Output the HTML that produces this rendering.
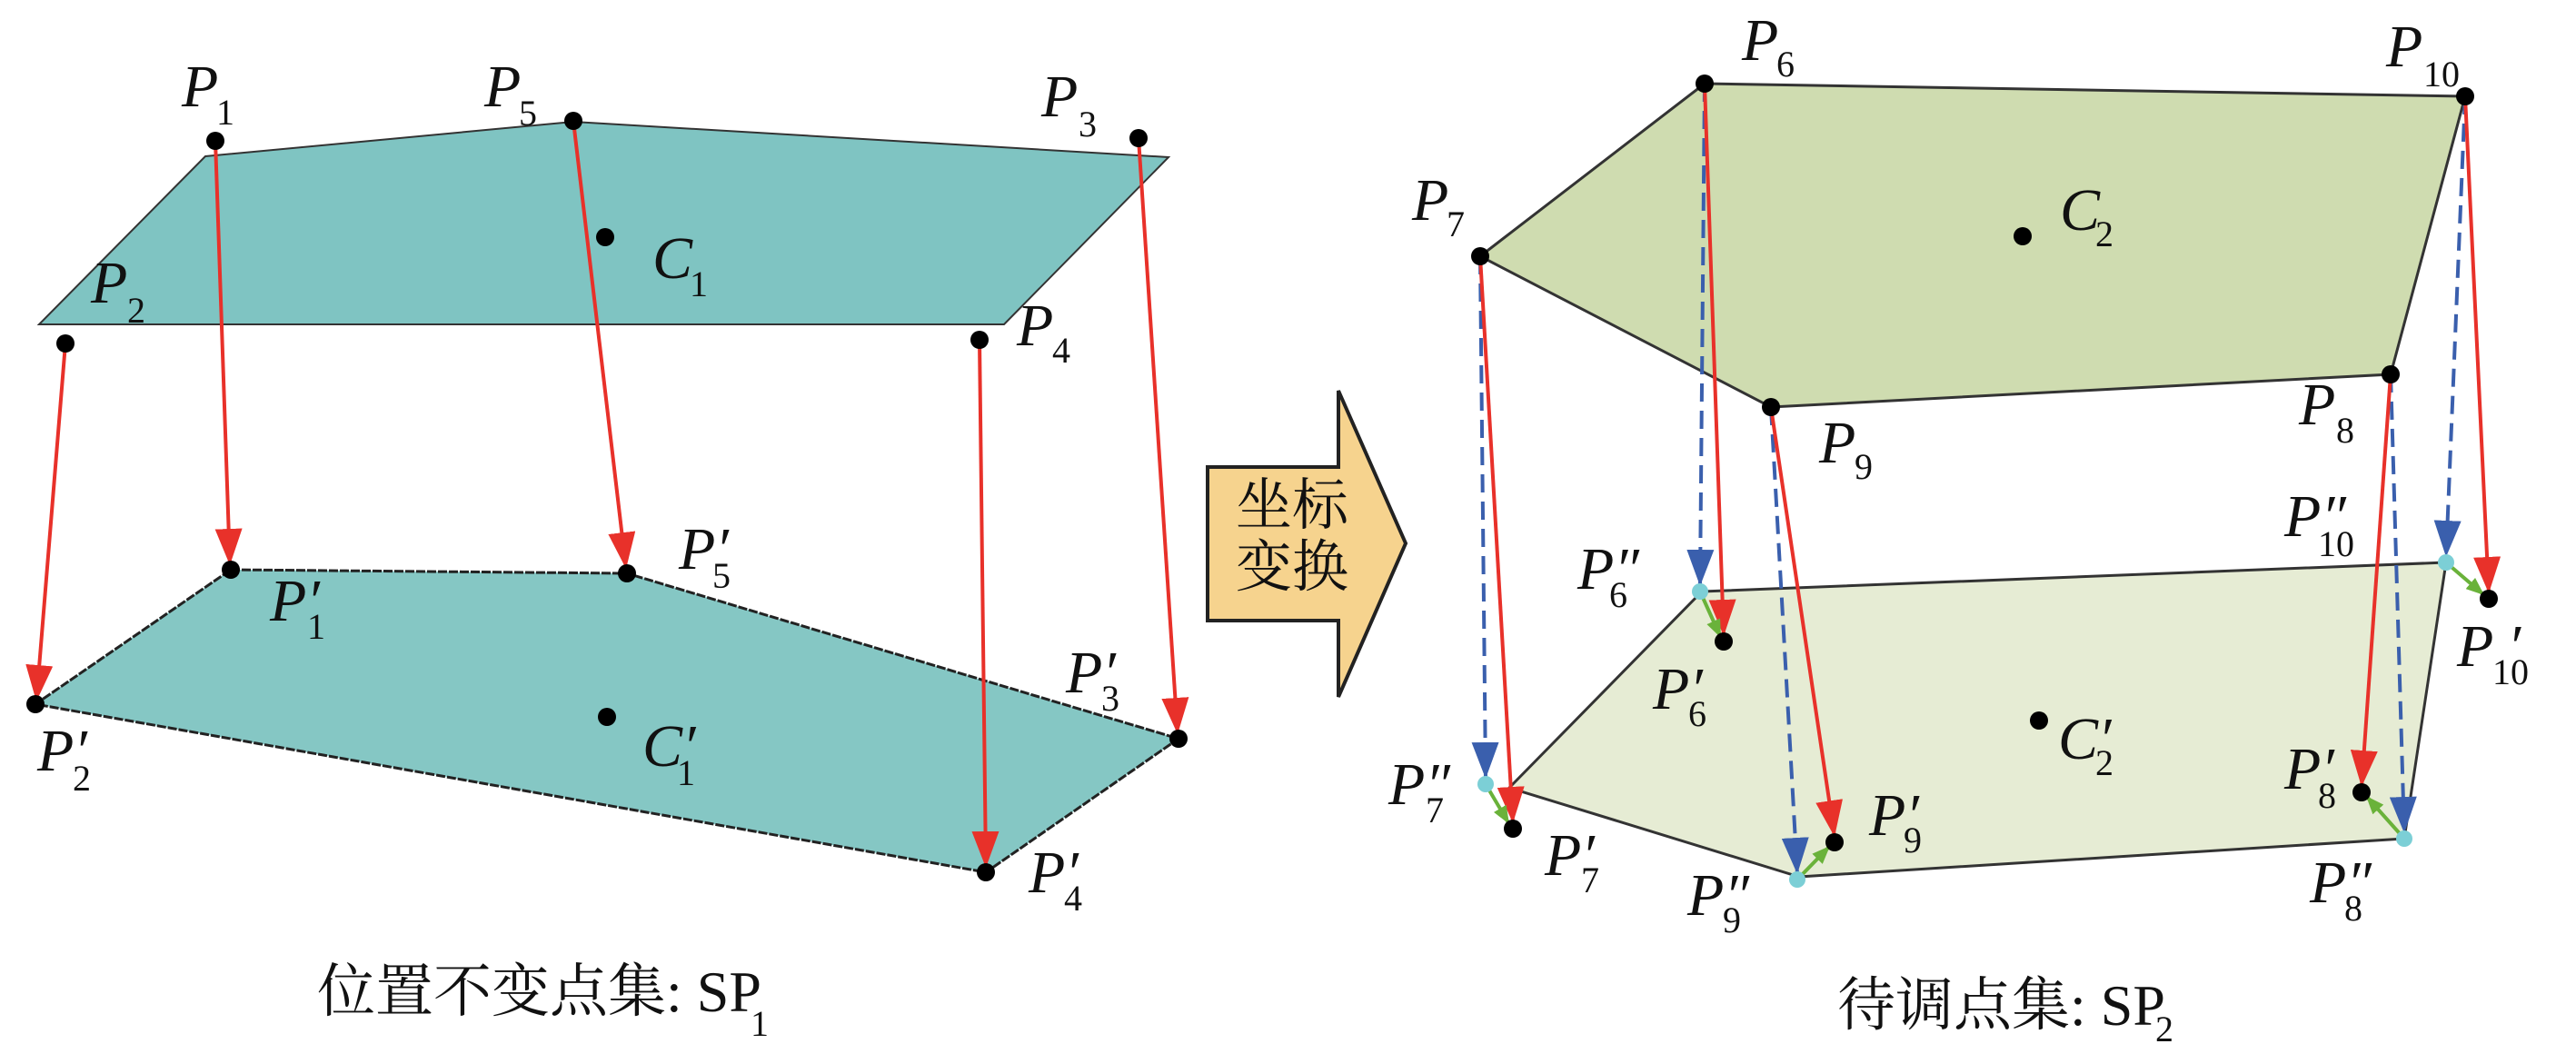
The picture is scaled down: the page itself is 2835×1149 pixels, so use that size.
<!DOCTYPE html>
<html><head><meta charset="utf-8"><style>
html,body{margin:0;padding:0;background:#fff;}
svg{display:block;}
.p{font-family:"Liberation Serif","DejaVu Serif",serif;font-style:italic;font-size:66px;fill:#111;}
.s{font-family:"Liberation Serif","DejaVu Serif",serif;font-size:40px;fill:#111;}
.cj{font-family:"Liberation Serif","Noto Serif CJK SC",serif;font-size:64px;fill:#111;}
</style></head><body>
<svg width="2835" height="1149" viewBox="0 0 2835 1149" xmlns="http://www.w3.org/2000/svg">
<defs>
<marker id="rh" viewBox="0 0 40 30" refX="40" refY="15" markerWidth="40" markerHeight="30" orient="auto" markerUnits="userSpaceOnUse"><path d="M0,0 L40,15 L0,30 z" fill="#e8312a"/></marker>
<marker id="bh" viewBox="0 0 40 30" refX="40" refY="15" markerWidth="40" markerHeight="30" orient="auto" markerUnits="userSpaceOnUse"><path d="M0,0 L40,15 L0,30 z" fill="#3a5fad"/></marker>
<marker id="gh" viewBox="0 0 20 16" refX="20" refY="8" markerWidth="20" markerHeight="16" orient="auto" markerUnits="userSpaceOnUse"><path d="M0,0 L20,8 L0,16 z" fill="#6ab23a"/></marker>
</defs>

<!-- LEFT -->
<polygon points="226,172 631,134 1286,173 1105,357 43,357" fill="#7fc4c2" stroke="#333" stroke-width="2"/>
<polygon points="254,627 690,631 1297,813 1085,960 39,775" fill="#85c7c4" stroke="#222" stroke-width="3" stroke-dasharray="10,2"/>
<g stroke="#e8312a" stroke-width="4" fill="none">
<line x1="72" y1="378" x2="40" y2="772" marker-end="url(#rh)"/>
<line x1="237" y1="155" x2="253" y2="622" marker-end="url(#rh)"/>
<line x1="631" y1="133" x2="689" y2="626" marker-end="url(#rh)"/>
<line x1="1078" y1="374" x2="1085" y2="955" marker-end="url(#rh)"/>
<line x1="1253" y1="152" x2="1296" y2="808" marker-end="url(#rh)"/>
</g>
<g fill="#000">
<circle cx="237" cy="155" r="10"/><circle cx="631" cy="133" r="10"/><circle cx="1253" cy="152" r="10"/>
<circle cx="72" cy="378" r="10"/><circle cx="1078" cy="374" r="10"/><circle cx="666" cy="261" r="10"/>
<circle cx="254" cy="627" r="10"/><circle cx="690" cy="631" r="10"/><circle cx="1297" cy="813" r="10"/>
<circle cx="1085" cy="960" r="10"/><circle cx="39" cy="775" r="10"/><circle cx="668" cy="789" r="10"/>
</g>
<text class="p" x="200" y="117">P</text><text class="s" x="238" y="137">1</text>
<text class="p" x="533" y="117">P</text><text class="s" x="571" y="138">5</text>
<text class="p" x="1146" y="128">P</text><text class="s" x="1187" y="150">3</text>
<text class="p" x="100" y="333">P</text><text class="s" x="140" y="355">2</text>
<text class="p" x="718" y="306">C</text><text class="s" x="759" y="326">1</text>
<text class="p" x="1119" y="380">P</text><text class="s" x="1158" y="399">4</text>
<text class="p" x="297" y="683">P′</text><text class="s" x="338" y="703">1</text>
<text class="p" x="747" y="626">P′</text><text class="s" x="784" y="647">5</text>
<text class="p" x="1173" y="762">P′</text><text class="s" x="1212" y="782">3</text>
<text class="p" x="41" y="848">P′</text><text class="s" x="80" y="870">2</text>
<text class="p" x="707" y="843">C′</text><text class="s" x="745" y="864">1</text>
<text class="p" x="1132" y="982">P′</text><text class="s" x="1171" y="1002">4</text>
<text class="cj" x="349" y="1113">位置不变点集: SP</text><text class="s" x="826" y="1140">1</text>

<!-- ARROW -->
<polygon points="1329,514 1473,514 1473,430 1547,598 1473,767 1473,683 1329,683" fill="#f6d38e" stroke="#222" stroke-width="4"/>
<text x="1360" y="577" style="font-family:'Noto Serif CJK SC',serif;font-size:62px;fill:#111">坐标</text>
<text x="1360" y="645" style="font-family:'Noto Serif CJK SC',serif;font-size:62px;fill:#111">变换</text>

<!-- RIGHT -->
<polygon points="1876,92 2713,106 2631,412 1949,448 1629,282" fill="#cfdcb0" stroke="#333" stroke-width="3"/>
<polygon points="1873,651 2692,619 2646,923 1980,965 1661,867" fill="#e6ecd4" stroke="#333" stroke-width="3"/>
<g stroke="#3a5fad" stroke-width="4" stroke-dasharray="20,10" fill="none">
<line x1="1876" y1="92" x2="1871" y2="645" marker-end="url(#bh)"/>
<line x1="2713" y1="106" x2="2692" y2="613" marker-end="url(#bh)"/>
<line x1="2631" y1="412" x2="2646" y2="917" marker-end="url(#bh)"/>
<line x1="1949" y1="448" x2="1978" y2="962" marker-end="url(#bh)"/>
<line x1="1629" y1="282" x2="1635" y2="857" marker-end="url(#bh)"/>
</g>
<g stroke="#e8312a" stroke-width="4" fill="none">
<line x1="1876" y1="92" x2="1897" y2="700" marker-end="url(#rh)"/>
<line x1="2713" y1="106" x2="2739" y2="653" marker-end="url(#rh)"/>
<line x1="2631" y1="412" x2="2599" y2="866" marker-end="url(#rh)"/>
<line x1="1949" y1="448" x2="2019" y2="921" marker-end="url(#rh)"/>
<line x1="1629" y1="282" x2="1665" y2="906" marker-end="url(#rh)"/>
</g>
<g stroke="#6ab23a" stroke-width="4" fill="none">
<line x1="1871" y1="651" x2="1894" y2="702" marker-end="url(#gh)"/>
<line x1="2692" y1="619" x2="2734" y2="655" marker-end="url(#gh)"/>
<line x1="2646" y1="923" x2="2604" y2="876" marker-end="url(#gh)"/>
<line x1="1978" y1="968" x2="2014" y2="931" marker-end="url(#gh)"/>
<line x1="1635" y1="863" x2="1661" y2="907" marker-end="url(#gh)"/>
</g>
<g fill="#7ccfd6">
<circle cx="1871" cy="651" r="9"/><circle cx="2692" cy="619" r="9"/><circle cx="2646" cy="923" r="9"/>
<circle cx="1978" cy="968" r="9"/><circle cx="1635" cy="863" r="9"/>
</g>
<g fill="#000">
<circle cx="1876" cy="92" r="10"/><circle cx="2713" cy="106" r="10"/><circle cx="2631" cy="412" r="10"/>
<circle cx="1949" cy="448" r="10"/><circle cx="1629" cy="282" r="10"/><circle cx="2226" cy="260" r="10"/>
<circle cx="1897" cy="706" r="10"/><circle cx="2739" cy="659" r="10"/><circle cx="2599" cy="872" r="10"/>
<circle cx="2019" cy="927" r="10"/><circle cx="1665" cy="912" r="10"/><circle cx="2244" cy="793" r="10"/>
</g>
<text class="p" x="1917" y="66">P</text><text class="s" x="1955" y="84">6</text>
<text class="p" x="2626" y="73">P</text><text class="s" x="2667" y="95">10</text>
<text class="p" x="1554" y="242">P</text><text class="s" x="1592" y="260">7</text>
<text class="p" x="2267" y="253">C</text><text class="s" x="2306" y="271">2</text>
<text class="p" x="2002" y="509">P</text><text class="s" x="2041" y="527">9</text>
<text class="p" x="2530" y="467">P</text><text class="s" x="2571" y="487">8</text>
<text class="p" x="2514" y="590">P″</text><text class="s" x="2551" y="612">10</text>
<text class="p" x="1736" y="648">P″</text><text class="s" x="1771" y="668">6</text>
<text class="p" x="2704" y="733">P ′</text><text class="s" x="2743" y="753">10</text>
<text class="p" x="1819" y="780">P′</text><text class="s" x="1858" y="799">6</text>
<text class="p" x="2265" y="835">C′</text><text class="s" x="2306" y="853">2</text>
<text class="p" x="2514" y="868">P′</text><text class="s" x="2551" y="889">8</text>
<text class="p" x="1528" y="885">P″</text><text class="s" x="1569" y="905">7</text>
<text class="p" x="2057" y="919">P′</text><text class="s" x="2095" y="938">9</text>
<text class="p" x="1700" y="963">P′</text><text class="s" x="1740" y="982">7</text>
<text class="p" x="1857" y="1007">P″</text><text class="s" x="1896" y="1026">9</text>
<text class="p" x="2542" y="993">P″</text><text class="s" x="2580" y="1013">8</text>
<text class="cj" x="2022" y="1128">待调点集: SP</text><text class="s" x="2372" y="1146">2</text>
</svg>
</body></html>
